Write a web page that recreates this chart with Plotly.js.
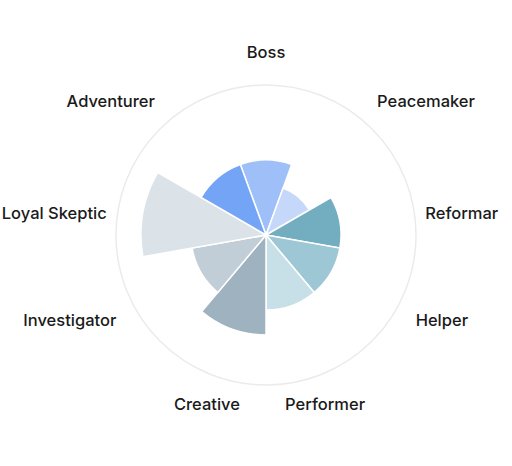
<!DOCTYPE html>
<html>
<head>
<meta charset="utf-8">
<script src="https://cdn.plot.ly/plotly-3.0.1.min.js"></script>
<style>html,body{margin:0;padding:0;background:#fff;}#chart{width:512px;height:466px;}</style>
</head>
<body>
<div id="chart"></div>
<script>
var categories = ["Boss", "Peacemaker", "Reformar", "Helper", "Performer", "Creative", "Investigator", "Loyal Skeptic", "Adventurer"];
var values = [6, 4, 6, 6, 6, 8, 6, 10, 6];
var colors = ["#9fbff8", "#c6d8f9", "#72aec0", "#9dc7d4", "#c7dfe6", "#9fb2bf", "#c1ced7", "#dbe3e9", "#74a4f6"];
var labelPositions = ["top center", "middle right", "bottom right", "middle right", "bottom center", "bottom center", "middle left", "bottom left", "middle left"];
var sideLabels = ["Reformar", "Loyal Skeptic"];
var LABEL_R = 0.748;
var LABEL_R_SIDE = 0.70;

var FONT = "Inter, 'Open Sans', sans-serif";

var bars = {
  type: "barpolar",
  r: values,
  theta: categories,
  marker: { color: colors, line: { color: "#ffffff", width: 1.5 } },
  hoverinfo: "theta+r",
  subplot: "polar"
};

var labels = {
  type: "scatterpolar",
  mode: "text",
  r: categories.map(function (c) { return sideLabels.indexOf(c) >= 0 ? LABEL_R_SIDE : LABEL_R; }),
  theta: categories,
  text: categories,
  textposition: labelPositions,
  textfont: { family: FONT, size: 16.5, color: "#1a1a1a", weight: 500 },
  cliponaxis: false,
  hoverinfo: "skip",
  subplot: "polar2"
};

var layout = {
  width: 512,
  height: 466,
  margin: { l: 20, r: 0, t: 4, b: 0 },
  paper_bgcolor: "#ffffff",
  showlegend: false,
  font: { family: FONT, size: 16, color: "#1a1a1a", weight: 500 },
  polar: {
    domain: { x: [0.19512, 0.80488], y: [0.17532, 0.82468] },
    bgcolor: "rgba(0,0,0,0)",
    bargap: 0,
    radialaxis: { range: [0, 12], visible: false, showgrid: false },
    angularaxis: {
      rotation: 90,
      direction: "clockwise",
      showgrid: false,
      showline: true,
      linecolor: "#ebebeb",
      linewidth: 1.5,
      ticks: "",
      showticklabels: false
    }
  },
  polar2: {
    domain: { x: [0, 1], y: [0, 1] },
    bgcolor: "rgba(0,0,0,0)",
    radialaxis: { range: [0, 1], visible: false, showgrid: false },
    angularaxis: {
      rotation: 90,
      direction: "clockwise",
      visible: false,
      showgrid: false,
      showline: false,
      ticks: "",
      showticklabels: false
    }
  }
};

Plotly.newPlot("chart", [bars, labels], layout, { displayModeBar: false, staticPlot: true });
</script>
</body>
</html>
